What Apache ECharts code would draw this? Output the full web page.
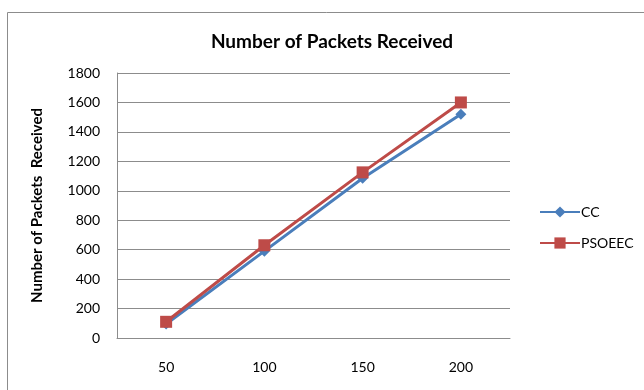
<!DOCTYPE html>
<html>
<head>
<meta charset="utf-8">
<script src="https://cdn.jsdelivr.net/npm/echarts@6/dist/echarts.min.js"></script>
<style>
  html, body { margin: 0; padding: 0; background: #fff; }
  #chart { width: 644px; height: 390px; }
</style>
</head>
<body>
<div id="chart"></div>
<script>
// Number of nodes on the x axis
const categories = ['50', '100', '150', '200'];
// Packets received per protocol
const ccValues = [95, 590, 1085, 1520];
const psoeecValues = [110, 630, 1125, 1600];
const yTicks = { min: 0, max: 1800, interval: 200 };

const fontFamily = 'Lato, "Open Sans", sans-serif';

const chart = echarts.init(document.getElementById('chart'), null, { renderer: 'canvas' });
chart.setOption({
  backgroundColor: '#ffffff',
  animation: false,
  graphic: [
    {
      type: 'polyline',
      shape: { points: [[7.5, 420], [7.5, 12.5], [700, 12.5]] },
      style: { fill: 'none', stroke: '#8c8c8c', lineWidth: 1 },
      silent: true
    }
  ],
  title: {
    text: 'Number of Packets Received',
    left: 327,
    top: 27,
    textAlign: 'center',
    textStyle: { fontFamily, fontSize: 19, fontWeight: 'bold', color: '#000' }
  },
  legend: {
    orient: 'vertical',
    left: 534,
    top: 200,
    itemGap: 17,
    itemWidth: 40,
    itemHeight: 14,
    textStyle: { fontFamily, fontSize: 14, color: '#000', padding: [0, 0, 0, -4] },
    data: ['CC', 'PSOEEC']
  },
  grid: { left: 117, top: 73, width: 393, height: 265, containLabel: false },
  xAxis: {
    type: 'category',
    data: categories,
    boundaryGap: true,
    axisLine: { lineStyle: { color: '#8c8c8c', width: 1 } },
    axisTick: { show: false },
    axisLabel: { fontFamily, fontSize: 14, color: '#000', margin: 22 }
  },
  yAxis: {
    type: 'value',
    min: yTicks.min,
    max: yTicks.max,
    interval: yTicks.interval,
    name: 'Number of Packets  Received',
    nameLocation: 'middle',
    nameGap: 72,
    nameTextStyle: { fontFamily, fontSize: 15, fontWeight: 'bold', color: '#000' },
    axisLine: { show: true, lineStyle: { color: '#8c8c8c', width: 1 } },
    axisTick: { show: false },
    splitLine: { lineStyle: { color: '#8c8c8c', width: 1 } },
    axisLabel: {
      fontFamily, fontSize: 14, color: '#000', margin: 17,
      formatter: (v) => String(v)
    }
  },
  series: [
    {
      name: 'CC',
      type: 'line',
      data: ccValues,
      symbol: 'diamond',
      symbolSize: 11,
      lineStyle: { color: '#4a7ebb', width: 3 },
      itemStyle: { color: '#4a7ebb' },
      z: 2
    },
    {
      name: 'PSOEEC',
      type: 'line',
      data: psoeecValues,
      symbol: 'rect',
      symbolSize: 12,
      lineStyle: { color: '#be4b48', width: 3 },
      itemStyle: { color: '#be4b48' },
      z: 3
    }
  ]
});
</script>
</body>
</html>
